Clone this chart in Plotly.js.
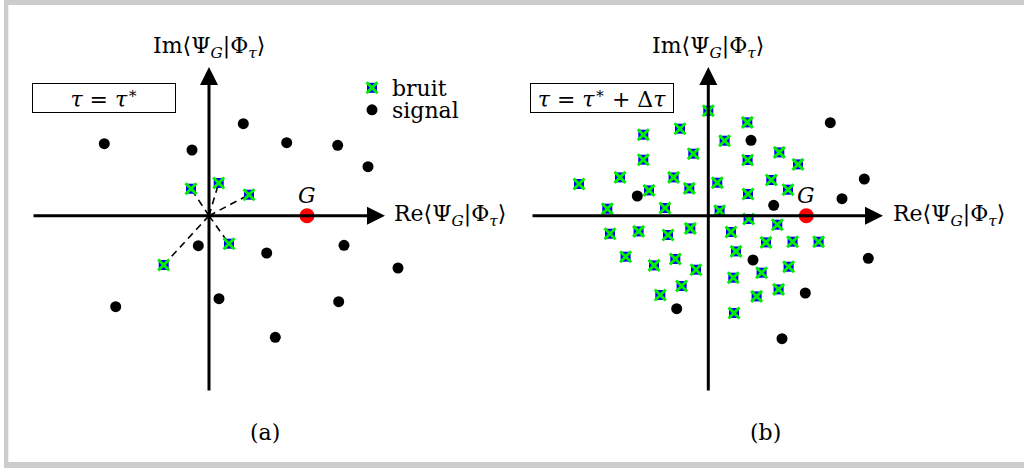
<!DOCTYPE html>
<html>
<head>
<meta charset="utf-8">
<script src="https://cdn.plot.ly/plotly-3.0.1.min.js"></script>
<style>
  html, body { margin: 0; padding: 0; background: #fff; }
  #fig { width: 1024px; height: 468px; }
</style>
</head>
<body>
<div id="fig"></div>
<script>
// panel (a): tau = tau*
const sigAX = [-104.7, -17, 34.3, 77.7, 128.7, 159, -10.7, 57.7, 135, 189, -93.3, 10, 129.7, 66.3];
const sigAY = [72, 65.7, 92, 73, 70.4, 49, -30, -37.3, -29.6, -52.3, -91, -83, -86, -121.6];
const noiseAX = [-18, 9.7, 40, 20, -45.3];
const noiseAY = [27, 32.7, 21, -28, -49.3];

// panel (b): tau = tau* + dtau
const sigBX = [122, 42.7, 156, 133.7, 65.4, -71, 44.7, 160, 97, -31.6, 73.7];
const sigBY = [93, 75.4, 36.7, 17, 10.4, 19.7, -44.3, -42.6, -77.3, -93, -123];
const noiseBX = [0, 39, -65, -28.3, 16.3, -15, -65, 39.3, 71, 89.7, -129.3, -88.3, -34.7, -59.3, -19, 9, 63, 79.7, 39.7,
  -101, -43.3, 11.3, 40.3, 69, -98.3, -69.7, -40.3, -18, 22.7, 57.7, 84.3, 110.3, -82.7, -33, 27.7, -54.3, -12.3, 53.3,
  80.3, 25, -26.7, 70.3, -48, 48.3, 25.7];
const noiseBY = [105, 93.3, 81, 87, 75, 62, 56, 55.7, 63.3, 51.3, 31.7, 38.3, 38.3, 25.3, 27.3, 33, 35.7, 26, 21.7,
  7, 7.7, 5, -3.3, -9, -18, -15.7, -19.3, -12.7, -16.3, -26.7, -26, -26, -41, -43.3, -35.7, -49.7, -54, -57,
  -51, -62, -70.3, -73.7, -79.3, -80.7, -97.3];

const gX = [98];
const gY = [0];

const W = 1024, H = 468;
const px = (v) => v / W;
const py = (v) => 1 - v / H;
const serif = '"DejaVu Serif", "Liberation Serif", serif';
const FS = 22;

// dashed rays from origin to each noise point (panel a)
const rayX = [], rayY = [];
noiseAX.forEach((x, i) => { rayX.push(0, x, null); rayY.push(0, noiseAY[i], null); });

function panelTraces(xa, ya, sx, sy, nx, ny, legend) {
  return [
    { type: 'scatter', mode: 'markers', x: sx, y: sy, xaxis: xa, yaxis: ya, name: 'signal', showlegend: legend,
      legend: 'legend3', marker: { color: '#000', size: 11 } },
    { type: 'scatter', mode: 'markers', x: nx, y: ny, xaxis: xa, yaxis: ya, name: 'bruit', showlegend: legend,
      marker: { symbol: 'square', color: '#0000ff', size: 10 } },
    // green cross drawn over the blue square; its legend key sits on top of the "bruit" key
    { type: 'scatter', mode: 'markers', x: nx, y: ny, xaxis: xa, yaxis: ya, name: '', showlegend: legend,
      legend: 'legend2', marker: { symbol: 'x-thin-open', size: 11, color: '#00ee00', line: { color: '#00ee00', width: 3 } } },
    { type: 'scatter', mode: 'markers', x: gX, y: gY, xaxis: xa, yaxis: ya, name: 'G', showlegend: false,
      marker: { color: '#ff0000', size: 15 } }
  ];
}

const traces = [
  { type: 'scatter', mode: 'lines', x: rayX, y: rayY, xaxis: 'x', yaxis: 'y', showlegend: false, hoverinfo: 'skip',
    line: { color: '#000', width: 1.6, dash: '7px,5px' } },
  ...panelTraces('x', 'y', sigAX, sigAY, noiseAX, noiseAY, true),
  ...panelTraces('x2', 'y2', sigBX, sigBY, noiseBX, noiseBY, false)
];

function axisArrow(xr, yr, x, y, ax, ay) {
  return { xref: xr, yref: yr, axref: xr, ayref: yr, x, y, ax, ay, text: '', showarrow: true,
    arrowhead: 2, arrowsize: 1.2, arrowwidth: 3, arrowcolor: '#000', standoff: 0, startstandoff: 0 };
}
const reLabel = 'Re⟨Ψ<sub><i>G</i></sub>|Φ<sub><i>τ</i></sub>⟩';
const imLabel = 'Im⟨Ψ<sub><i>G</i></sub>|Φ<sub><i>τ</i></sub>⟩';
const txt = (text, x, y, extra) => Object.assign({ text, x, y, showarrow: false, xanchor: 'center', yanchor: 'middle',
  font: { family: serif, size: FS, color: '#000' } }, extra);

const annotations = [
  axisArrow('x', 'y', 176, 0, -177, 0),
  axisArrow('x', 'y', 0, 148.7, 0, -176.3),
  axisArrow('x2', 'y2', 174.7, 0, -177.3, 0),
  axisArrow('x2', 'y2', 0, 148.7, 0, -176.3),
  txt(reLabel, 183, 0, { xref: 'x', yref: 'y', xanchor: 'left' }),
  txt(imLabel, 0, 168.7, { xref: 'x', yref: 'y' }),
  txt(reLabel, 182.7, 0, { xref: 'x2', yref: 'y2', xanchor: 'left' }),
  txt(imLabel, 0, 168.7, { xref: 'x2', yref: 'y2' }),
  txt('<i>G</i>', gX[0], gY[0], { xref: 'x', yref: 'y', yshift: 20 }),
  txt('<i>G</i>', gX[0], gY[0], { xref: 'x2', yref: 'y2', yshift: 20 }),
  txt('<i>τ</i> = <i>τ</i><sup>∗</sup>', px(104), py(98), { xref: 'paper', yref: 'paper', width: 142, height: 28,
    bordercolor: '#000', borderwidth: 1, borderpad: 0 }),
  txt('<i>τ</i> = <i>τ</i><sup>∗</sup> + Δ<i>τ</i>', px(602), py(98), { xref: 'paper', yref: 'paper', width: 142, height: 28,
    bordercolor: '#000', borderwidth: 1, borderpad: 0 }),
  txt('(a)', px(265), py(432), { xref: 'paper', yref: 'paper' }),
  txt('(b)', px(765), py(432), { xref: 'paper', yref: 'paper' })
];

const gray = '#cccccc';
const shapes = [
  { type: 'rect', xref: 'paper', yref: 'paper', x0: px(4), x1: 1, y0: py(0), y1: py(5), fillcolor: gray, line: { width: 0 } },
  { type: 'rect', xref: 'paper', yref: 'paper', x0: px(4), x1: px(8.3), y0: 0, y1: 1, fillcolor: gray, line: { width: 0 } },
  { type: 'rect', xref: 'paper', yref: 'paper', x0: px(4), x1: 1, y0: 0, y1: py(462), fillcolor: gray, line: { width: 0 } }
];

const hidden = { visible: false, fixedrange: true };
const legendBase = { x: px(352), xanchor: 'left', yanchor: 'middle', bgcolor: 'rgba(0,0,0,0)',
  font: { family: serif, size: FS, color: '#000' }, itemwidth: 30 };

Plotly.newPlot('fig', traces, {
  width: W, height: H,
  margin: { l: 0, r: 0, t: 0, b: 0 },
  paper_bgcolor: '#fff', plot_bgcolor: 'rgba(0,0,0,0)',
  font: { family: serif, color: '#000' },
  xaxis: { ...hidden, domain: [0, 0.5], range: [-209, 303] },
  yaxis: { ...hidden, domain: [0, 1], range: [-252.3, 215.7] },
  xaxis2: { ...hidden, domain: [0.5, 1], range: [-196.3, 315.7], anchor: 'y2' },
  yaxis2: { ...hidden, domain: [0, 1], range: [-252.3, 215.7], anchor: 'x2' },
  showlegend: true,
  legend: { ...legendBase, y: py(88) },
  legend2: { ...legendBase, y: py(88) },
  legend3: { ...legendBase, y: py(110) },
  annotations, shapes
}, { displayModeBar: false, staticPlot: true });
</script>
</body>
</html>
